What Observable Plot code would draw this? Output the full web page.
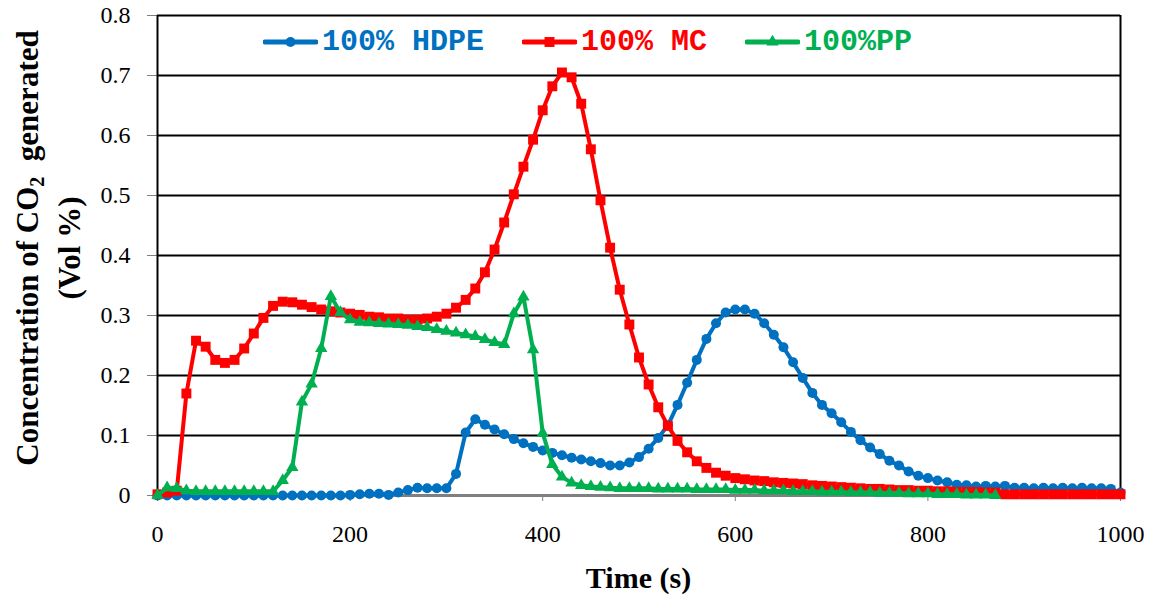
<!DOCTYPE html>
<html>
<head>
<meta charset="utf-8">
<script src="https://cdn.jsdelivr.net/npm/d3@7"></script>
<script src="https://cdn.jsdelivr.net/npm/@observablehq/plot@0.6"></script>
<style>
  body { margin: 0; background: #fff; }
  #wrap { position: relative; width: 1154px; height: 600px; overflow: hidden; }
  .legend { position: absolute; top: 25px; left: 263px; display: flex; gap: 38px; align-items: center;
            font-family: "Liberation Mono", "Courier New", monospace; font-weight: bold; font-size: 30px; }
  .legend .item { display: flex; align-items: center; gap: 4px; }
  .ytitle { position: absolute; left: -201px; top: 206px; width: 500px; height: 84px; transform: rotate(-90deg);
            font-family: "Liberation Serif", "Times New Roman", serif; font-weight: bold; font-size: 31px;
            text-align: center; line-height: 42px; color: #000; white-space: nowrap; }
  .ytitle sub { font-size: 0.65em; line-height: 0; vertical-align: -0.3em; }
  .xtitle { position: absolute; left: 157px; width: 963px; top: 561px; text-align: center;
            font-family: "Liberation Serif", "Times New Roman", serif; font-weight: bold; font-size: 30px; color: #000; }
</style>
</head>
<body>
<div id="wrap"></div>
<script>
// Sampling times (s)
const timeFull = [0,10,20,30,40,50,60,70,80,90,100,110,120,130,140,150,160,170,180,190,
  200,210,220,230,240,250,260,270,280,290,300,310,320,330,340,350,360,370,380,390,
  400,410,420,430,440,450,460,470,480,490,500,510,520,530,540,550,560,570,580,590,
  600,610,620,630,640,650,660,670,680,690,700,710,720,730,740,750,760,770,780,790,
  800,810,820,830,840,850,860,870,880,890,900,910,920,930,940,950,960,970,980,990,1000];
const timePP = timeFull.slice(0, 88); // 0 … 870 s

// CO2 concentration (vol %) – 100% HDPE
const hdpe = [0,0,0,0,0,0,0,0,0,0,
  0,0,0,0,0,0,0,0,0,0,
  0.001,0.002,0.003,0.003,0.001,0.005,0.009,0.013,0.012,0.012,
  0.012,0.036,0.105,0.127,0.118,0.110,0.102,0.094,0.087,0.081,
  0.075,0.071,0.067,0.063,0.060,0.057,0.054,0.050,0.050,0.055,
  0.064,0.078,0.096,0.117,0.151,0.188,0.226,0.261,0.287,0.305,
  0.310,0.310,0.303,0.287,0.268,0.247,0.222,0.196,0.171,0.151,
  0.137,0.122,0.106,0.092,0.080,0.069,0.058,0.050,0.040,0.033,
  0.029,0.025,0.022,0.018,0.017,0.015,0.016,0.015,0.016,0.013,
  0.013,0.012,0.013,0.012,0.013,0.012,0.013,0.012,0.012,0.011,0.005];

// CO2 concentration (vol %) – 100% MC
const mc = [0.002,0.005,0.008,0.170,0.258,0.248,0.226,0.221,0.226,0.245,
  0.270,0.296,0.316,0.323,0.322,0.318,0.314,0.310,0.307,0.305,
  0.303,0.301,0.298,0.297,0.295,0.295,0.293,0.293,0.295,0.298,
  0.303,0.313,0.326,0.345,0.372,0.410,0.455,0.502,0.548,0.593,
  0.642,0.682,0.705,0.697,0.653,0.577,0.492,0.413,0.343,0.285,
  0.230,0.185,0.147,0.116,0.091,0.072,0.057,0.046,0.038,0.033,
  0.029,0.027,0.025,0.024,0.022,0.021,0.020,0.019,0.017,0.016,
  0.015,0.014,0.013,0.012,0.011,0.011,0.010,0.009,0.009,0.008,
  0.008,0.007,0.007,0.006,0.006,0.006,0.005,0.005,0.002,0.002,
  0.002,0.002,0.002,0.002,0.002,0.002,0.002,0.002,0.002,0.002,0.002];

// CO2 concentration (vol %) – 100% PP
const pp = [0,0.013,0.012,0.008,0.007,0.007,0.007,0.007,0.007,0.007,
  0.007,0.007,0.007,0.025,0.047,0.156,0.186,0.245,0.332,0.305,
  0.293,0.289,0.288,0.287,0.286,0.285,0.284,0.282,0.280,0.277,
  0.274,0.271,0.268,0.265,0.260,0.255,0.252,0.303,0.331,0.243,
  0.104,0.052,0.031,0.021,0.017,0.015,0.014,0.013,0.012,0.012,
  0.012,0.012,0.011,0.011,0.011,0.011,0.010,0.010,0.010,0.010,
  0.009,0.009,0.009,0.008,0.008,0.008,0.007,0.007,0.007,0.006,
  0.006,0.006,0.005,0.005,0.005,0.004,0.004,0.004,0.003,0.003,
  0.003,0.002,0.002,0.002,0.001,0.001,0.001,0];

const seriesNames = ["100% HDPE", "100% MC", "100%PP"];
const seriesColors = ["#0070C0", "#FF0000", "#00B050"];
const seriesSymbols = ["circle", "square", "triangle"];

const xTicks = [0, 200, 400, 600, 800, 1000];
const yTicks = [0, 0.1, 0.2, 0.3, 0.4, 0.5, 0.6, 0.7, 0.8];
const yTickLabels = ["0", "0.1", "0.2", "0.3", "0.4", "0.5", "0.6", "0.7", "0.8"];

const series = [
  {name: seriesNames[0], rows: timeFull.map((t, i) => ({t, v: hdpe[i]})), r: 5},
  {name: seriesNames[1], rows: timeFull.map((t, i) => ({t, v: mc[i]})), r: 5.6},
  {name: seriesNames[2], rows: timePP.map((t, i) => ({t, v: pp[i]})), r: 4.6}
].map((s, i) => ({...s, color: seriesColors[i], symbol: seriesSymbols[i]}));

const seriesMarks = series.flatMap(s => [
  Plot.line(s.rows, {x: "t", y: "v", stroke: s.color, strokeWidth: 4, strokeLinejoin: "round"}),
  Plot.dot(s.rows, {x: "t", y: "v", symbol: () => s.symbol, fill: s.color, stroke: "none", r: s.r})
]);

const chart = Plot.plot({
  width: 1154,
  height: 600,
  marginLeft: 157,
  marginRight: 34,
  marginTop: 15,
  marginBottom: 105,
  style: {fontFamily: "'Liberation Serif', 'Times New Roman', serif", fontSize: "24px", color: "#000", background: "#fff"},
  x: {domain: [0, 1000]},
  y: {domain: [0, 0.8]},
  symbol: {type: "identity"},
  marks: [
    Plot.gridY(yTicks, {stroke: "#000", strokeOpacity: 1, strokeWidth: 2}),
    Plot.ruleX([1000], {stroke: "#000", strokeWidth: 2}),
    Plot.ruleY([0], {stroke: "#808080", strokeWidth: 2}),
    Plot.axisX(xTicks, {tickSize: 6, tickPadding: 23, stroke: "#808080", label: null, tickFormat: d => String(d)}),
    Plot.axisY(yTicks, {tickSize: 10, tickPadding: 17, stroke: "#808080", label: null,
                        tickFormat: d => yTickLabels[yTicks.indexOf(d)]}),
    Plot.ruleX([0], {stroke: "#000", strokeWidth: 2}),
    ...seriesMarks
  ]
});

const wrap = document.getElementById("wrap");
wrap.appendChild(chart);

// Legend row drawn over the top of the plotting area
const legend = d3.select(wrap).append("div").attr("class", "legend");
series.forEach(s => {
  const item = legend.append("div").attr("class", "item");
  const sw = item.append("svg").attr("width", 55).attr("height", 20);
  sw.append("line").attr("x1", 2).attr("x2", 53).attr("y1", 10).attr("y2", 10)
    .attr("stroke", s.color).attr("stroke-width", 5).attr("stroke-linecap", "round");
  const sym = {circle: d3.symbolCircle, square: d3.symbolSquare, triangle: d3.symbolTriangle}[s.symbol];
  sw.append("path").attr("transform", "translate(27.5,10)")
    .attr("d", d3.symbol(sym, s.r * s.r * Math.PI)()).attr("fill", s.color);
  item.append("span").style("color", s.color).text(s.name);
});

// Axis titles
d3.select(wrap).append("div").attr("class", "ytitle")
  .html("Concentration of CO<sub>2</sub>&nbsp; generated<br>(Vol %)");
d3.select(wrap).append("div").attr("class", "xtitle").text("Time (s)");
</script>
</body>
</html>
